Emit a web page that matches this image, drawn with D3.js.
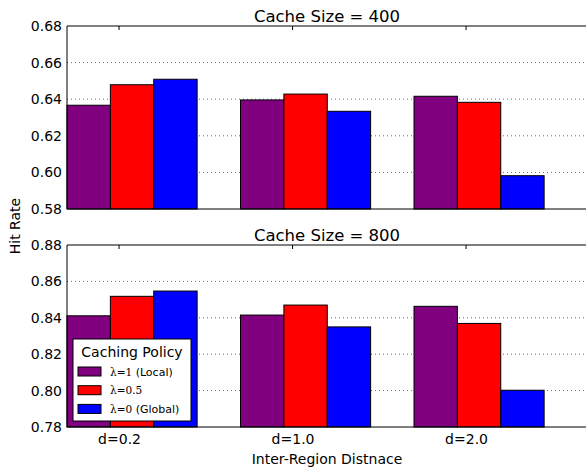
<!DOCTYPE html>
<html><head><meta charset="utf-8">
<style>
  body { margin: 0; background: #fff; }
  svg text { font-family: 'DejaVu Sans', sans-serif; fill: #000; }
  .grid line { stroke: #000; stroke-opacity: 0.65; stroke-dasharray: 1,3; stroke-width: 0.9; }
</style>
</head>
<body>
<svg id="chart" width="586" height="470"></svg>
<script src="https://d3js.org/d3.v7.min.js"></script>
<script>
const categories = ['d=0.2', 'd=1.0', 'd=2.0'];
const policies = ['local', 'half', 'global'];
const colors = ['#800080', '#ff0000', '#0000ff'];

// hit rate per policy, per category
const hit400 = [
  [0.6367, 0.6396, 0.6416],
  [0.6479, 0.6428, 0.6383],
  [0.6509, 0.6334, 0.5982]
];
const hit800 = [
  [0.8411, 0.8415, 0.8463],
  [0.8518, 0.8470, 0.8369],
  [0.8547, 0.8350, 0.8002]
];
const yTicks400 = [0.58, 0.60, 0.62, 0.64, 0.66, 0.68];
const yTicks800 = [0.78, 0.80, 0.82, 0.84, 0.86, 0.88];

const svg = d3.select('#chart');
const x = d3.scaleLinear().domain([0, 3]).range([67, 587.5]);
const barW = 0.25;

function panel(title, data, ticks, top, bottom, showX) {
  const y = d3.scaleLinear().domain([ticks[0], ticks[ticks.length - 1]]).range([bottom, top]);
  const g = svg.append('g');

  g.append('g').attr('class', 'grid')
    .selectAll('line').data(ticks.slice(1, -1)).enter().append('line')
    .attr('x1', x(0)).attr('x2', x(3))
    .attr('y1', d => y(d)).attr('y2', d => y(d));

  policies.forEach((p, j) => {
    g.append('g').selectAll('rect').data(data[j]).enter().append('rect')
      .attr('x', (d, i) => x(i + j * barW))
      .attr('width', x(barW) - x(0))
      .attr('y', d => y(d))
      .attr('height', d => y(ticks[0]) - y(d))
      .attr('fill', colors[j])
      .attr('stroke', '#000').attr('stroke-width', 1);
  });

  // frame (right side is cut off by the window)
  g.append('path')
    .attr('d', `M${x(3)},${top}H${x(0)}V${bottom}H${x(3)}`)
    .attr('fill', 'none').attr('stroke', '#000').attr('stroke-width', 1);

  // top tick marks at category positions
  g.selectAll('.tk').data(categories).enter().append('line')
    .attr('x1', (d, i) => x(i + 0.3)).attr('x2', (d, i) => x(i + 0.3))
    .attr('y1', top).attr('y2', top + 4)
    .attr('stroke', '#000');

  const yAxis = d3.axisLeft(y).tickValues(ticks).tickFormat(d3.format('.2f')).tickSize(0).tickPadding(5);
  const ya = g.append('g').attr('transform', `translate(${x(0)},0)`).call(yAxis);
  ya.select('.domain').remove();
  ya.selectAll('text').attr('font-size', 14).attr('font-family', "'DejaVu Sans', sans-serif");

  if (showX) {
    const xAxis = d3.axisBottom(x).tickValues([0.3, 1.3, 2.3])
      .tickFormat((d, i) => categories[i]).tickSize(0).tickPadding(7);
    const xa = g.append('g').attr('transform', `translate(0,${bottom})`).call(xAxis);
    xa.select('.domain').remove();
    xa.selectAll('text').attr('font-size', 14).attr('font-family', "'DejaVu Sans', sans-serif");
  }

  g.append('text').attr('x', 327).attr('y', top - 4)
    .attr('text-anchor', 'middle').attr('font-size', 16.5).text(title);
  return y;
}

panel('Cache Size = 400', hit400, yTicks400, 26, 209, false);
panel('Cache Size = 800', hit800, yTicks800, 245, 427, true);

svg.append('text').attr('transform', 'translate(20,226) rotate(-90)')
  .attr('text-anchor', 'middle').attr('font-size', 14).text('Hit Rate');
svg.append('text').attr('x', 327).attr('y', 464)
  .attr('text-anchor', 'middle').attr('font-size', 14).text('Inter-Region Distnace');

// legend
const lg = svg.append('g').attr('transform', 'translate(73,339)');
lg.append('rect').attr('width', 118).attr('height', 82)
  .attr('fill', '#fff').attr('stroke', '#000').attr('stroke-width', 1);
lg.append('text').attr('x', 59).attr('y', 18).attr('text-anchor', 'middle')
  .attr('font-size', 14).text('Caching Policy');
const labels = [['1', ' (Local)'], ['0.5', ''], ['0', ' (Global)']];
labels.forEach((l, j) => {
  const cy = 32.5 + j * 18.7;
  lg.append('rect').attr('x', 5).attr('y', cy - 4.5).attr('width', 23).attr('height', 9)
    .attr('fill', colors[j]).attr('stroke', '#000').attr('stroke-width', 1);
  const t = lg.append('text').attr('x', 37).attr('y', cy + 4).attr('font-size', 11);
  t.append('tspan').attr('font-family', "'DejaVu Serif', serif").attr('font-size', 10.5).text('λ=' + l[0]);
  t.append('tspan').text(l[1]);
});
</script>
</body></html>
